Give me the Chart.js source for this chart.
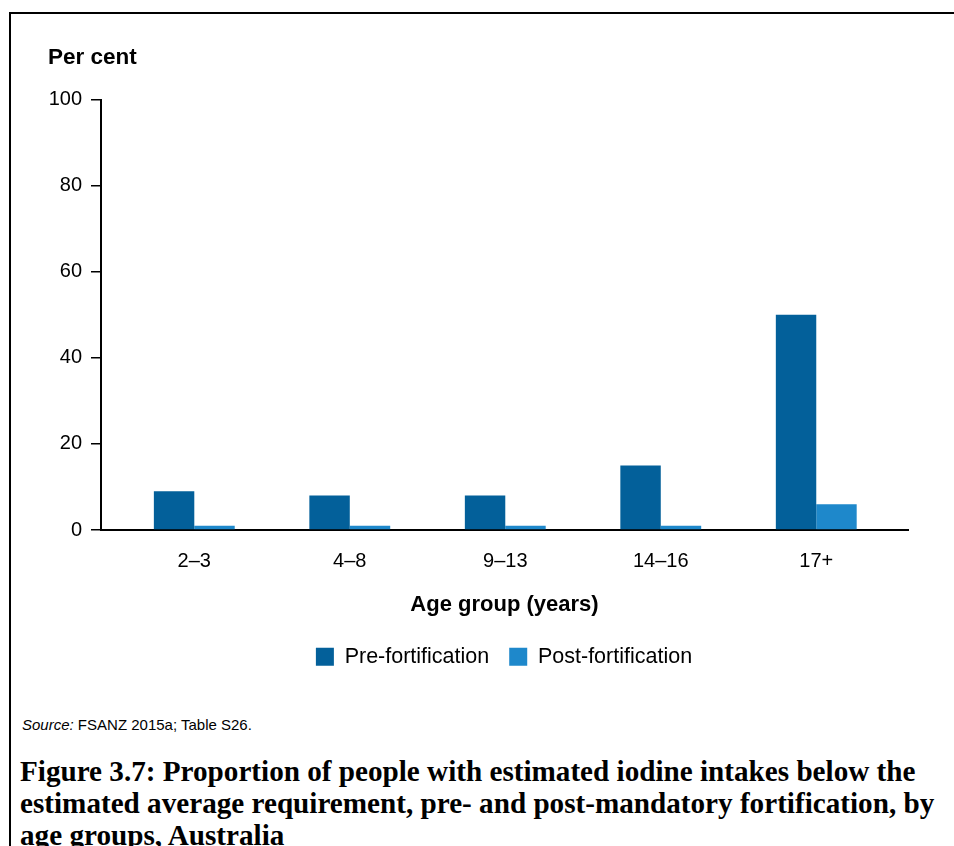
<!DOCTYPE html>
<html>
<head>
<meta charset="utf-8">
<script src="https://cdn.jsdelivr.net/npm/chart.js@4.4.0/dist/chart.umd.min.js"></script>
<style>
  body { margin: 0; background: #fff; width: 954px; height: 846px; overflow: hidden; position: relative; font-family: "Liberation Sans", Arial, sans-serif; }
  #frame { position: absolute; left: 9px; top: 12px; width: 1000px; height: 900px; border: 2px solid #000; }
  #chart { position: absolute; left: 0; top: 0; }
  #source { position: absolute; left: 22px; top: 716px; font-size: 15px; color: #000; }
  #caption { position: absolute; left: 20px; top: 755px; font-family: "Liberation Serif", serif; font-weight: bold; font-size: 25.5px; line-height: 32px; white-space: nowrap; color: #000; }
</style>
</head>
<body>
<div id="frame"></div>
<canvas id="chart" width="954" height="700"></canvas>
<div id="source"><i>Source:</i> FSANZ 2015a; Table S26.</div>
<div id="caption">Figure 3.7: Proportion of people with estimated iodine intakes below the<br>estimated average requirement, pre- and post-mandatory fortification, by<br>age groups, Australia</div>
<script>
const ageGroups = ["2–3", "4–8", "9–13", "14–16", "17+"];
const preFortification = [9, 8, 8, 15, 50];
const postFortification = [1, 1, 1, 1, 6];
const yTicks = [0, 20, 40, 60, 80, 100];

// fit caption to the reference width
const cap = document.getElementById("caption");
cap.style.fontSize = (25.5 * 915 / cap.offsetWidth) + "px";

Chart.defaults.font.family = '"Liberation Sans", Arial, sans-serif';
Chart.defaults.color = "#000";

// legend is centred a bit right of the canvas centre in the original
const legendShift = {
  id: "legendShift",
  afterLayout(chart) {
    chart.legend.left += 26;
    chart.legend.right += 26;
  },
};

const ctx = document.getElementById("chart").getContext("2d");
new Chart(ctx, {
  type: "bar",
  data: {
    datasets: [
      {
        label: "Pre-fortification",
        data: preFortification.map((y, i) => ({ x: i, y: y })),
        backgroundColor: "#03609a",
      },
      {
        label: "Post-fortification",
        data: postFortification.map((y, i) => ({ x: i, y: y })),
        backgroundColor: "#1e88cb",
      },
    ],
  },
  options: {
    responsive: false,
    animation: false,
    layout: { padding: { left: 48, right: 46, top: 0, bottom: 22.5 } },
    datasets: { bar: { categoryPercentage: 0.52, barPercentage: 1 } },
    scales: {
      x: {
        type: "linear",
        offset: false,
        min: -0.6,
        max: 4.59,
        grid: { display: false, drawTicks: false },
        border: { display: true, color: "#000", width: 2 },
        afterBuildTicks: (scale) => {
          scale.ticks = ageGroups.map((_, i) => ({ value: i }));
        },
        afterFit: (scale) => {
          scale.height = 96;
        },
        ticks: {
          padding: 19,
          font: { size: 20 },
          callback: (v) => ageGroups[v],
        },
        title: {
          display: true,
          text: "Age group (years)",
          font: { size: 22, weight: "bold" },
          padding: { top: 0, bottom: 8 },
        },
      },
      y: {
        min: 0,
        max: 100,
        grid: { drawOnChartArea: false, drawTicks: true, tickLength: 10, color: "#000", lineWidth: 1.5 },
        border: { display: true, color: "#000", width: 2 },
        afterBuildTicks: (scale) => {
          scale.ticks = yTicks.map((v) => ({ value: v }));
        },
        afterFit: (scale) => {
          scale.width = 53;
        },
        ticks: { padding: 9, font: { size: 20 } },
      },
    },
    plugins: {
      tooltip: { enabled: false },
      title: {
        display: true,
        text: "Per cent",
        align: "start",
        font: { size: 22.5, weight: "bold" },
        padding: { top: 44, bottom: 28.6 },
      },
      legend: {
        position: "bottom",
        labels: { boxWidth: 18, boxHeight: 18, padding: 20, font: { size: 21.5 } },
      },
    },
  },
  plugins: [legendShift],
});
</script>
</body>
</html>
